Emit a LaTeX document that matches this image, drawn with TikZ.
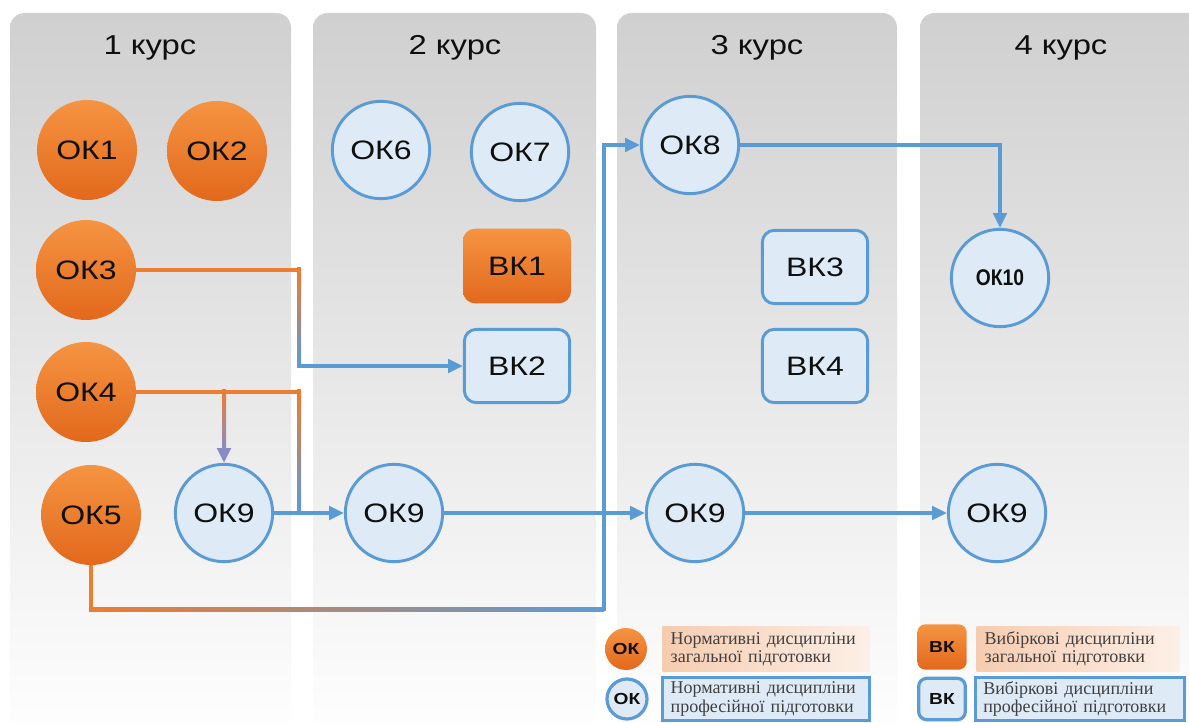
\documentclass[tikz,border=0pt]{standalone}
\usepackage{fontspec}
\setmainfont{Liberation Serif}
\newfontfamily\lblfont[FakeStretch=1.2]{Liberation Sans}
\usetikzlibrary{arrows.meta,calc}

% colors
\definecolor{kOrange}{RGB}{237,125,49}
\definecolor{kOrangeT}{RGB}{245,148,66}
\definecolor{kOrangeB}{RGB}{226,104,28}
\definecolor{kBlue}{RGB}{91,155,213}
\definecolor{kBlueFill}{RGB}{222,235,247}
\definecolor{kPink}{RGB}{196,140,168}
\definecolor{kTip}{RGB}{135,140,200}
\definecolor{kPeach}{RGB}{246,204,176}
\definecolor{kPanel}{RGB}{208,208,208}
\definecolor{kText}{RGB}{15,15,15}
\definecolor{kGrey}{RGB}{64,64,64}

\tikzset{
  okO/.style={circle,minimum size=75pt,inner sep=0pt,top color=kOrangeT,bottom color=kOrangeB,
    text=kText,font=\lblfont\fontsize{20}{23}\selectfont},
  okB/.style={circle,minimum size=73pt,inner sep=0pt,draw=kBlue,line width=2.2pt,fill=kBlueFill,
    text=kText,font=\lblfont\fontsize{20}{23}\selectfont},
  vkO/.style={rectangle,rounded corners=9pt,minimum width=81pt,minimum height=56pt,
    top color=kOrangeT,bottom color=kOrangeB,text=kText,font=\lblfont\fontsize{20}{23}\selectfont},
  vkB/.style={rectangle,rounded corners=9pt,minimum width=79pt,minimum height=55pt,draw=kBlue,
    line width=2.2pt,fill=kBlueFill,text=kText,font=\lblfont\fontsize{20}{23}\selectfont},
  hdr/.style={anchor=base,text=kText,font=\lblfont\fontsize{20.5}{24}\selectfont},
  link/.style={line width=3pt,draw=kBlue,-{Triangle[length=11pt,width=10pt]}},
  plain/.style={line width=3pt},
  lgmark/.style={font=\lblfont\bfseries\fontsize{12}{14}\selectfont},
  lgbox/.style={rectangle,inner xsep=6pt,inner ysep=0pt,align=left,text=kGrey,
    font=\fontsize{13.5}{13.8}\selectfont},
}

\begin{document}
\begin{tikzpicture}[x=0.75pt,y=-0.75pt]
  \useasboundingbox (0,0) rectangle (1189,723);
  \fill[white] (0,0) rectangle (1189,723);
  % panels
  \foreach \xa/\xb in {10/291, 313/596, 617/897, 920/1210}
    \shade[top color=kPanel,bottom color=white,rounded corners=11pt]
      (\xa,745) -- (\xa,13) -- (\xb,13) -- (\xb,745) -- cycle;
  \node[hdr] (h1) at (150,55) {1 курс};
  \node[hdr] (h2) at (455,55) {2 курс};
  \node[hdr] (h3) at (757,55) {3 курс};
  \node[hdr] (h4) at (1061,55) {4 курс};

  % 1 курс
  \node[okO] (ok1) at (87,150) {ОК1};
  \node[okO] (ok2) at (217,151) {ОК2};
  \node[okO] (ok3) at (86,270) {ОК3};
  \node[okO] (ok4) at (86,392) {ОК4};
  \node[okO] (ok5) at (91,515) {ОК5};
  \node[okB] (ok9a) at (224,513) {ОК9};
  % 2 курс
  \node[okB] (ok6) at (381,150) {ОК6};
  \node[okB] (ok7) at (520,152) {ОК7};
  \node[vkO] (bk1) at (517,266) {ВК1};
  \node[vkB] (bk2) at (517,366) {ВК2};
  \node[okB] (ok9b) at (394,513) {ОК9};
  % 3 курс
  \node[okB] (ok8) at (690,145) {ОК8};
  \node[vkB] (bk3) at (815,267) {ВК3};
  \node[vkB] (bk4) at (815,366) {ВК4};
  \node[okB] (ok9c) at (695,513) {ОК9};
  % 4 курс
  \node[okB,font=\lblfont\bfseries\fontsize{17}{20}\selectfont] (ok10) at (1000,278) {\addfontfeature{FakeStretch=0.85}ОК10};
  \node[okB] (ok9d) at (997,513) {ОК9};

  % links
  \coordinate (j3) at (299,320);
  \coordinate (m4) at (299,513);
  \coordinate (c5) at (604,609);
  \draw[link] (ok3.east) -| (j3) |- (bk2.west);
  \draw[plain,kOrange] (ok3.east) -- (ok3.east -| j3);
  \shade[top color=kOrange,middle color=kPink,bottom color=kBlue]
    ($(ok3.east -| j3)+(-2,-2)$) rectangle ($(bk2.west -| j3)+(2,0)$);
  \draw[plain,kBlue] (ok4.east) -| (m4);
  \draw[link,draw=kTip] (ok4.east) -| (ok9a.north);
  \draw[plain,kOrange] (ok4.east) -- (ok4.east -| m4);
  \shade[top color=kOrange,middle color=kPink,bottom color=kBlue]
    ($(ok4.east -| m4)+(-2,-2)$) rectangle ($(m4)+(2,0)$);
  \shade[top color=kOrange,bottom color=kTip]
    ($(ok4.east -| ok9a.north)+(-2,-2)$) rectangle ($(ok9a.north)+(2,-13)$);
  \draw[link] (ok9a.east) -- (ok9b.west);
  \draw[link] (ok9b.east) -- (ok9c.west);
  \draw[link] (ok9c.east) -- (ok9d.west);
  \draw[link] (ok5.south) |- (c5) |- (ok8.west);
  \draw[plain,kOrange] (ok5.south) -- ($(ok5.south |- c5)+(0,2)$);
  \shade[left color=kOrange,middle color=kPink,right color=kBlue]
    ($(ok5.south |- c5)+(-2,-2)$) rectangle ($(c5)+(0,2)$);
  \draw[link] (ok8.east) -| (ok10.north);

  % legend
  \node[okO,minimum size=31.5pt,lgmark] (lgA) at (626,649) {ОК};
  \node[lgbox,left color=kPeach,right color=kPeach!30,text width=143pt,minimum height=34pt]
    (lgAt) at (766,649) {Нормативні дисципліни\\загальної підготовки};
  \node[okB,minimum size=30pt,line width=2.4pt,lgmark] (lgB) at (627,699) {ОК};
  \node[lgbox,draw=kBlue,line width=2pt,fill=kBlueFill,text width=143pt,minimum height=32pt]
    (lgBt) at (766,699) {Нормативні дисципліни\\професійної підготовки};
  \node[vkO,rounded corners=6pt,minimum width=37pt,minimum height=34pt,lgmark] (lgC) at (942,647) {ВК};
  \node[lgbox,left color=kPeach,right color=kPeach!30,text width=140pt,minimum height=34pt]
    (lgCt) at (1078,649) {Вибіркові дисципліни\\загальної підготовки};
  \node[vkB,rounded corners=6pt,minimum width=35pt,minimum height=31pt,line width=2.4pt,lgmark] (lgD) at (942,699) {ВК};
  \node[lgbox,draw=kBlue,line width=2pt,fill=kBlueFill,text width=145pt,minimum height=32pt]
    (lgDt) at (1080,699) {Вибіркові дисципліни\\професійної підготовки};
\end{tikzpicture}
\end{document}
